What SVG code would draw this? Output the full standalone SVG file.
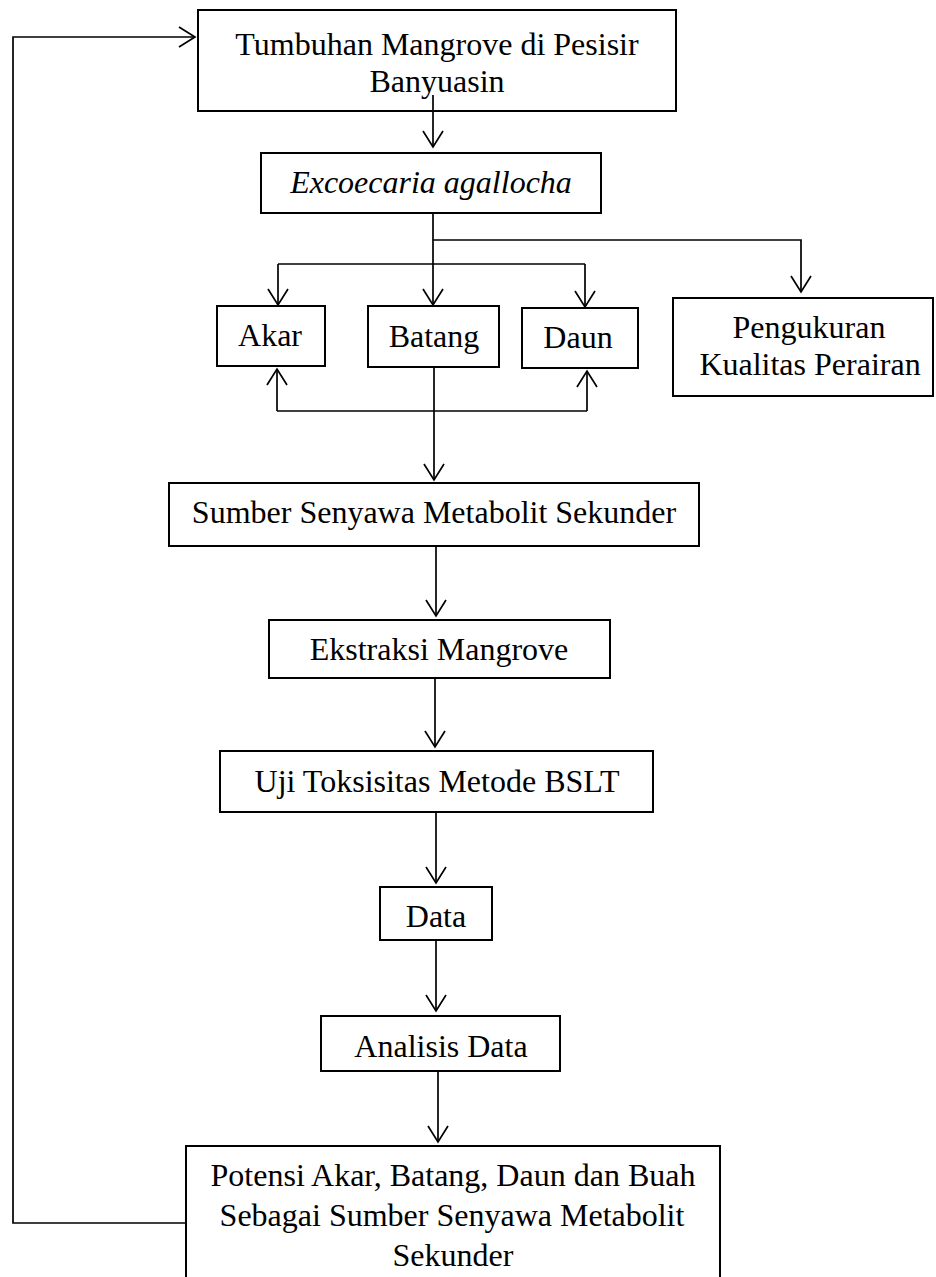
<svg xmlns="http://www.w3.org/2000/svg" width="936" height="1277" viewBox="0 0 936 1277">
<style>
  .box { fill: none; stroke: #000; stroke-width: 2; }
  .t { font-family: "Liberation Serif", "Times New Roman", serif; font-size: 32px; fill: #000; text-anchor: middle; }
  .it { font-style: italic; }
  .c { fill: none; stroke: #000; stroke-width: 1.7; }
</style>
<defs>
  <marker id="ah" markerUnits="userSpaceOnUse" viewBox="-17 -12 19 24" markerWidth="19" markerHeight="24" refX="0" refY="0" orient="auto" overflow="visible">
    <path d="M-16,-10 L0,0 L-16,10" fill="none" stroke="#000" stroke-width="1.7"/>
  </marker>
</defs>
<rect width="936" height="1277" fill="#fff"/>
<g id="n-tumbuhan">
  <rect class="box" x="198" y="10" width="478" height="101"/>
  <text class="t" x="437" y="55">Tumbuhan Mangrove di Pesisir</text>
  <text class="t" x="437" y="92">Banyuasin</text>
</g>
<g id="n-excoecaria">
  <rect class="box" x="261" y="153" width="340" height="60"/>
  <text class="t it" x="431" y="193">Excoecaria agallocha</text>
</g>
<g id="n-akar">
  <rect class="box" x="217" y="306" width="108" height="60"/>
  <text class="t" x="270" y="346">Akar</text>
</g>
<g id="n-batang">
  <rect class="box" x="368" y="306" width="131" height="61"/>
  <text class="t" x="434" y="347">Batang</text>
</g>
<g id="n-daun">
  <rect class="box" x="522" y="308" width="116" height="60"/>
  <text class="t" x="578" y="348">Daun</text>
</g>
<g id="n-pengukuran">
  <rect class="box" x="673" y="298" width="260" height="98"/>
  <text class="t" x="809" y="338">Pengukuran</text>
  <text class="t" x="810" y="375">Kualitas Perairan</text>
</g>
<g id="n-sumber">
  <rect class="box" x="169" y="483" width="530" height="63"/>
  <text class="t" x="434" y="523">Sumber Senyawa Metabolit Sekunder</text>
</g>
<g id="n-ekstraksi">
  <rect class="box" x="269" y="620" width="341" height="58"/>
  <text class="t" x="439" y="660">Ekstraksi Mangrove</text>
</g>
<g id="n-uji">
  <rect class="box" x="220" y="751" width="433" height="61"/>
  <text class="t" x="437" y="792">Uji Toksisitas Metode BSLT</text>
</g>
<g id="n-data">
  <rect class="box" x="380" y="887" width="112" height="53"/>
  <text class="t" x="436" y="927">Data</text>
</g>
<g id="n-analisis">
  <rect class="box" x="321" y="1016" width="239" height="55"/>
  <text class="t" x="441" y="1057">Analisis Data</text>
</g>
<g id="n-potensi">
  <rect class="box" x="186" y="1146" width="534" height="160"/>
  <text class="t" x="453" y="1186">Potensi Akar, Batang, Daun dan Buah</text>
  <text class="t" x="452" y="1226">Sebagai Sumber Senyawa Metabolit</text>
  <text class="t" x="453" y="1266">Sekunder</text>
</g>
<g id="connectors">
  <path class="c" d="M186,1223 H13 V37 H195" marker-end="url(#ah)"/>
  <path class="c" d="M433,95 V147" marker-end="url(#ah)"/>
  <path class="c" d="M433,213 V305" marker-end="url(#ah)"/>
  <path class="c" d="M433,240 H801 V292" marker-end="url(#ah)"/>
  <path class="c" d="M278,264 H585"/>
  <path class="c" d="M278,264 V305" marker-end="url(#ah)"/>
  <path class="c" d="M585,264 V307" marker-end="url(#ah)"/>
  <path class="c" d="M434,367 V480" marker-end="url(#ah)"/>
  <path class="c" d="M277,411 H587"/>
  <path class="c" d="M277,411 V369" marker-end="url(#ah)"/>
  <path class="c" d="M587,411 V371" marker-end="url(#ah)"/>
  <path class="c" d="M436,546 V616" marker-end="url(#ah)"/>
  <path class="c" d="M435,678 V747" marker-end="url(#ah)"/>
  <path class="c" d="M436,812 V883" marker-end="url(#ah)"/>
  <path class="c" d="M436,940 V1011" marker-end="url(#ah)"/>
  <path class="c" d="M438,1071 V1142" marker-end="url(#ah)"/>
</g>
</svg>
